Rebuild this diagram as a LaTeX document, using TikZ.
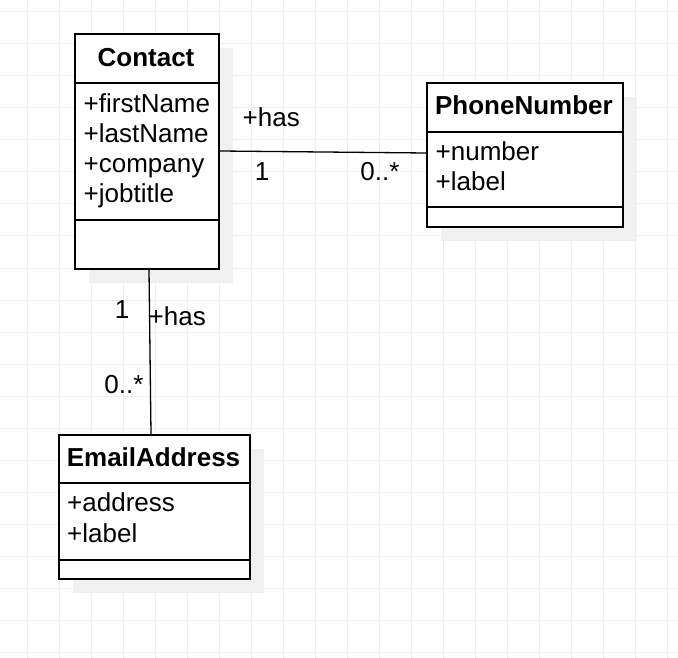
\documentclass[tikz,border=0pt]{standalone}
\usepackage{fontspec}
\setmainfont{Liberation Sans}
\usetikzlibrary{calc,shadows}

\tikzset{
	gridline/.style={draw=black!7,line width=1pt},
	classbox/.style={draw,line width=2pt,fill=white,anchor=north west,inner sep=0pt,
		drop shadow={shadow xshift=14pt,shadow yshift=-14pt,fill=black!6,opacity=1}},
	sepline/.style={line width=2pt},
	classname/.style={font=\fontsize{26}{30}\selectfont\bfseries,anchor=base,inner sep=0pt},
	attr/.style={anchor=base west,inner sep=0pt},
	mult/.style={anchor=base,inner sep=0pt},
	role/.style={anchor=base west,inner sep=0pt},
	assoc/.style={line width=1.3pt},
}

\begin{document}
\fontsize{26}{30}\selectfont
\begin{tikzpicture}[x=1pt,y=-1pt]
	\useasboundingbox (0,0) rectangle (678,658);
	% grid
	\foreach \x in {27,59,...,667} \draw[gridline] (\x,0) -- (\x,658);
	\foreach \y in {12,44,...,652} \draw[gridline] (0,\y) -- (678,\y);

	% Contact
	\node [classbox,minimum width=144pt,minimum height=234.4pt] (contact) at (74,33.3) {};
	\draw [sepline] ($(contact.north west)+(0,50)$) -- ($(contact.north east)+(0,50)$);
	\draw [sepline] ($(contact.north west)+(0,186.7)$) -- ($(contact.north east)+(0,186.7)$);
	\node [classname] (contactname) at (146,66.7) {Contact};
	\foreach \t [count=\i] in {firstName,lastName,company,jobtitle}
		\node [attr] (contact\i) at (83.5,{82.5+30*\i}) {+\t};

	% PhoneNumber
	\node [classbox,minimum width=195.7pt,minimum height=143.4pt] (phone) at (426,82.3) {};
	\draw [sepline] ($(phone.north west)+(0,49.4)$) -- ($(phone.north east)+(0,49.4)$);
	\draw [sepline] ($(phone.north west)+(0,125)$) -- ($(phone.north east)+(0,125)$);
	\node [classname] (phonename) at (523.9,115) {PhoneNumber};
	\node [attr] (phone1) at (435.5,161) {+number};
	\node [attr] (phone2) at (435.5,190.8) {+label};

	% EmailAddress
	\node [classbox,minimum width=191.6pt,minimum height=143.7pt] (email) at (57.7,434) {};
	\draw [sepline] ($(email.north west)+(0,49.3)$) -- ($(email.north east)+(0,49.3)$);
	\draw [sepline] ($(email.north west)+(0,126)$) -- ($(email.north east)+(0,126)$);
	\node [classname] (emailname) at (153.5,466.7) {EmailAddress};
	\node [attr] (email1) at (67,511.7) {+address};
	\node [attr] (email2) at (67,542.3) {+label};

	% associations
	\draw [assoc] ($(contact.east)+(0,-0.5)$) -- ($(phone.west)+(0,-2)$);
	\node [role] (hasphone) at (242.5,126.7) {+has};
	\node [mult] (phoneone) at (262,180.7) {1};
	\node [mult] (phonemany) at (380,180.7) {0..*};

	\draw [assoc] ($(contact.south)+(2,0)$) -- ($(email.north)+(-3.5,0)$);
	\node [mult] (emailone) at (122,318.3) {1};
	\node [role] (hasemail) at (148.5,325) {+has};
	\node [mult] (emailmany) at (124,393.3) {0..*};
\end{tikzpicture}
\end{document}
